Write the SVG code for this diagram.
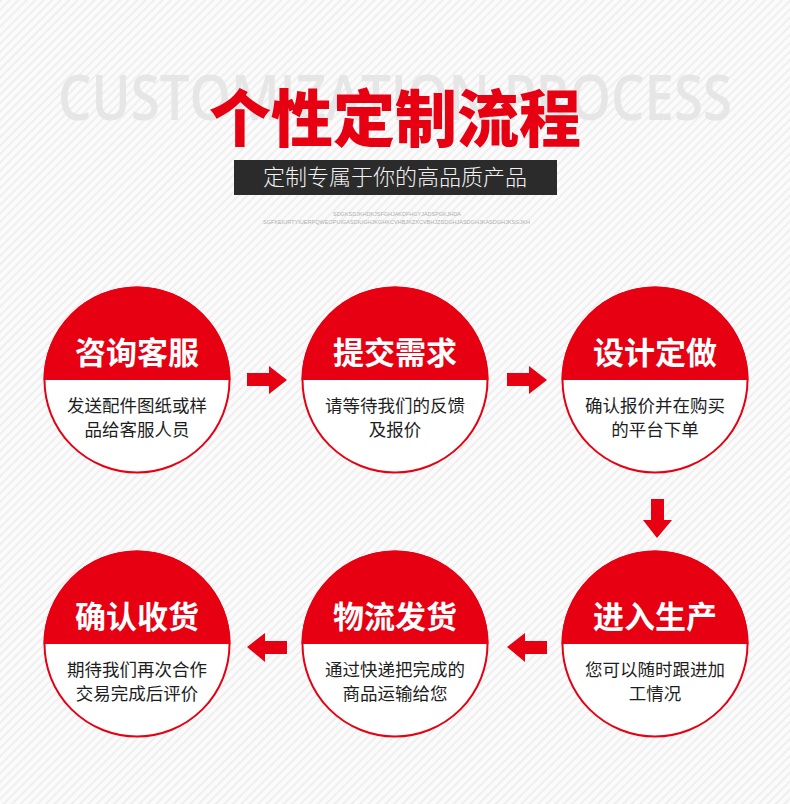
<svg xmlns="http://www.w3.org/2000/svg" width="790" height="804" viewBox="0 0 790 804">
<defs>
<pattern id="stripes" width="6" height="6" patternUnits="userSpaceOnUse" patternTransform="rotate(45)">
<rect width="6" height="6" fill="#fbfbfb"/>
<rect width="2" height="6" fill="#efefef"/>
</pattern>
<clipPath id="topHalf"><rect x="-100" y="-100" width="200" height="100"/></clipPath>
</defs>
<style>
.title{font-family:"Noto Sans CJK SC","Noto Sans",sans-serif;font-weight:900;fill:#e60012;font-size:62px}
.bg-en{font-family:"Open Sans","Liberation Sans",sans-serif;font-weight:600;font-size:64px;fill:#e6e6e6}
.sub{font-family:"Noto Sans CJK SC",sans-serif;font-weight:300;font-size:22px;fill:#f2f2f2}
.tiny{font-family:"Liberation Sans",sans-serif;font-size:6px;fill:#b0b0b0}
.ring{fill:#ffffff;stroke:#e60012;stroke-width:2}
.cap{fill:#e60012}
.head{font-family:"Noto Sans CJK SC",sans-serif;font-weight:700;font-size:31px;fill:#ffffff}
.body{font-family:"Noto Sans CJK SC",sans-serif;font-weight:400;font-size:17.5px;fill:#1e1e1e}
.arrow{fill:#e60012}
</style>
<rect width="790" height="804" fill="url(#stripes)"/>
<g id="header">
<text class="bg-en" x="58" y="120" textLength="674" lengthAdjust="spacingAndGlyphs">CUSTOMIZATION PROCESS</text>
<text class="title" x="395" y="142" text-anchor="middle">个性定制流程</text>
<rect x="234" y="160" width="323" height="35" fill="#2b2b2b"/>
<text class="sub" x="395" y="185" text-anchor="middle">定制专属于你的高品质产品</text>
<text class="tiny" x="333" y="216" textLength="128" lengthAdjust="spacingAndGlyphs">SDGKSDJKHDKJSFGHJAKDFHGYJADSPGKJHDA</text>
<text class="tiny" x="263" y="224" textLength="267" lengthAdjust="spacingAndGlyphs">SGFKEIURTYIUERPQWEOPUIGASDIUGHJKGHKCVHBJKZXCVBHJZSDGHJASDGHJKASDGHJKSGJKH</text>
</g>
<g id="node1" transform="translate(137,380)">
<circle class="ring" r="92.5"/>
<circle class="cap" r="93.5" clip-path="url(#topHalf)"/>
<text class="head" x="0" y="-16" text-anchor="middle">咨询客服</text>
<text class="body" x="0" y="32" text-anchor="middle">发送配件图纸或样</text>
<text class="body" x="0" y="56" text-anchor="middle">品给客服人员</text>
</g>
<g id="node2" transform="translate(395,380)">
<circle class="ring" r="92.5"/>
<circle class="cap" r="93.5" clip-path="url(#topHalf)"/>
<text class="head" x="0" y="-16" text-anchor="middle">提交需求</text>
<text class="body" x="0" y="32" text-anchor="middle">请等待我们的反馈</text>
<text class="body" x="0" y="56" text-anchor="middle">及报价</text>
</g>
<g id="node3" transform="translate(655,380)">
<circle class="ring" r="92.5"/>
<circle class="cap" r="93.5" clip-path="url(#topHalf)"/>
<text class="head" x="0" y="-16" text-anchor="middle">设计定做</text>
<text class="body" x="0" y="32" text-anchor="middle">确认报价并在购买</text>
<text class="body" x="0" y="56" text-anchor="middle">的平台下单</text>
</g>
<g id="node4" transform="translate(655,644)">
<circle class="ring" r="92.5"/>
<circle class="cap" r="93.5" clip-path="url(#topHalf)"/>
<text class="head" x="0" y="-16" text-anchor="middle">进入生产</text>
<text class="body" x="0" y="32" text-anchor="middle">您可以随时跟进加</text>
<text class="body" x="0" y="56" text-anchor="middle">工情况</text>
</g>
<g id="node5" transform="translate(395,644)">
<circle class="ring" r="92.5"/>
<circle class="cap" r="93.5" clip-path="url(#topHalf)"/>
<text class="head" x="0" y="-16" text-anchor="middle">物流发货</text>
<text class="body" x="0" y="32" text-anchor="middle">通过快递把完成的</text>
<text class="body" x="0" y="56" text-anchor="middle">商品运输给您</text>
</g>
<g id="node6" transform="translate(137,644)">
<circle class="ring" r="92.5"/>
<circle class="cap" r="93.5" clip-path="url(#topHalf)"/>
<text class="head" x="0" y="-16" text-anchor="middle">确认收货</text>
<text class="body" x="0" y="32" text-anchor="middle">期待我们再次合作</text>
<text class="body" x="0" y="56" text-anchor="middle">交易完成后评价</text>
</g>
<g id="connectors">
<polygon class="arrow" points="247,373 269,373 269,366 287,380 269,394 269,386 247,386"/>
<polygon class="arrow" points="507,373 529,373 529,366 547,380 529,394 529,386 507,386"/>
<polygon class="arrow" points="651,499 664,499 664,520 672,520 657,538 643,520 651,520"/>
<polygon class="arrow" points="547,641 525,641 525,633 507,647 525,662 525,654 547,654"/>
<polygon class="arrow" points="287,641 265,641 265,633 247,647 265,662 265,654 287,654"/>
</g>
</svg>
